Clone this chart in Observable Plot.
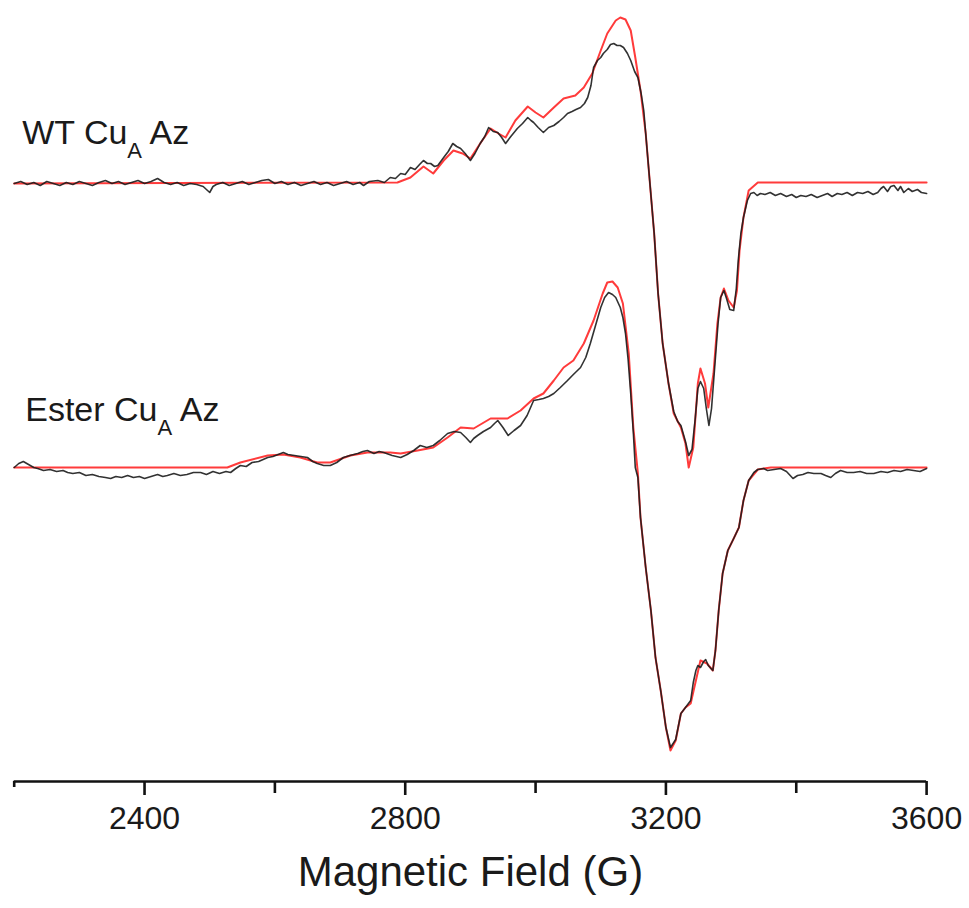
<!DOCTYPE html>
<html>
<head>
<meta charset="utf-8">
<script src="https://cdn.jsdelivr.net/npm/d3@7"></script>
<script src="https://cdn.jsdelivr.net/npm/@observablehq/plot@0.6"></script>
<style>
  html, body { margin: 0; padding: 0; background: #fff; }
  #chart svg { display: block; }
</style>
</head>
<body>
<div id="chart"></div>
<script>
// ---------------- data (field in gauss, signal in arbitrary units) ----------------
const wtFitField = [2200,2788,2808,2828,2843,2859,2874,2888,2900,2915,2931,2943,2954,2969,2988,3000,3012,3028,3043,3061,3074,3087,3100,3110,3123,3130,3138,3146,3153,3161,3169,3176,3182,3188,3195,3204,3212,3223,3230,3235,3242,3249,3253,3260,3265,3273,3279,3284,3289,3296,3304,3309,3313,3319,3327,3341,3600];
const wtFitSignal = [0,1,6,17,10,23,33,30,25,40,55,50,46,63,77,71,66,76,85,88,96,110,133,150,163,166,164,153,126,93,50,-4,-50,-110,-160,-200,-230,-244,-260,-284,-264,-200,-185,-200,-224,-190,-140,-114,-105,-117,-124,-107,-67,-34,-7,1,1];

const wtExpField = [2200,2210,2220,2230,2240,2250,2260,2270,2280,2290,2300,2310,2320,2330,2340,2350,2360,2370,2380,2390,2400,2410,2420,2430,2440,2450,2460,2470,2480,2490,2500,2505,2510,2520,2530,2540,2550,2560,2570,2580,2590,2600,2610,2620,2630,2640,2650,2660,2670,2680,2690,2700,2710,2720,2730,2736,2745,2758,2768,2777,2785,2793,2800,2808,2815,2822,2828,2834,2839,2845,2850,2859,2866,2873,2879,2885,2892,2900,2907,2915,2922,2928,2935,2942,2948,2954,2962,2972,2980,2988,2993,2997,3004,3012,3020,3028,3036,3043,3049,3056,3062,3069,3075,3080,3085,3089,3095,3100,3104,3110,3115,3120,3125,3130,3135,3141,3146,3152,3157,3162,3166,3169,3176,3182,3188,3195,3204,3212,3218,3223,3230,3235,3240,3245,3249,3253,3258,3262,3266,3270,3276,3280,3284,3289,3293,3298,3304,3308,3311,3315,3319,3325,3330,3335,3340,3345,3352,3360,3368,3376,3385,3393,3400,3407,3415,3423,3432,3440,3448,3455,3463,3470,3478,3486,3494,3502,3510,3518,3525,3530,3534,3540,3545,3550,3556,3560,3565,3572,3578,3586,3592,3600];
const wtExpSignal = [0,2,-1,1,-2,2,0,-2,1,-1,2,0,-2,1,3,0,2,-1,1,3,0,2,5,1,-1,1,-2,0,-1,-3,-9,-3,-1,1,-2,0,2,-1,1,3,4,0,2,-1,1,-2,0,2,-1,1,-2,0,2,-1,1,-2,2,3,1,6,5,10,9,16,14,19,23,20,20,17,18,26,32,40,37,35,30,23,30,40,47,56,52,51,46,40,47,55,60,66,63,61,56,51,56,58,62,66,70,72,74,76,80,86,98,116,123,126,130,134,139,140,138,138,136,130,123,112,106,90,73,50,-4,-50,-110,-160,-200,-228,-238,-242,-258,-272,-266,-235,-205,-198,-205,-225,-242,-225,-174,-140,-114,-107,-115,-126,-127,-105,-77,-50,-34,-17,-10,-9,-12,-10,-11,-9,-12,-10,-13,-11,-14,-12,-13,-11,-14,-12,-10,-13,-10,-11,-9,-12,-9,-10,-8,-11,-9,-5,-3,-8,-3,-2,-7,-3,-9,-5,-8,-6,-9,-10];

const esterFitField = [2200,2527,2547,2589,2613,2639,2665,2685,2716,2742,2777,2793,2819,2843,2865,2885,2905,2931,2957,2977,2997,3012,3028,3043,3058,3074,3089,3103,3110,3118,3126,3134,3143,3150,3157,3161,3169,3177,3184,3192,3200,3207,3215,3223,3230,3238,3246,3253,3263,3272,3276,3281,3287,3295,3304,3312,3319,3327,3341,3361,3600];
const esterFitSignal = [0,0,5,12,13,10,5,5,12,15,15,14,17,20,30,40,39,49,49,57,69,74,87,100,107,124,147,174,185,186,180,164,114,40,-6,-50,-100,-143,-190,-223,-260,-283,-273,-246,-240,-236,-213,-193,-196,-203,-183,-143,-106,-83,-71,-60,-33,-13,-2,0,0];

const esterExpField = [2200,2207,2214,2222,2230,2236,2245,2255,2265,2275,2282,2290,2300,2310,2320,2330,2340,2348,2356,2365,2374,2383,2392,2400,2410,2420,2428,2435,2445,2455,2465,2475,2486,2495,2505,2515,2525,2532,2540,2547,2556,2565,2575,2582,2589,2597,2605,2613,2620,2630,2640,2650,2658,2665,2675,2685,2695,2705,2715,2727,2735,2742,2752,2760,2767,2780,2793,2803,2813,2823,2833,2843,2853,2865,2875,2885,2893,2900,2905,2911,2920,2931,2937,2942,2950,2958,2967,2977,2987,2997,3005,3012,3020,3028,3038,3049,3058,3069,3077,3084,3092,3100,3106,3112,3118,3123,3130,3134,3138,3142,3146,3150,3153,3157,3161,3169,3177,3184,3192,3200,3207,3215,3223,3230,3238,3242,3246,3249,3253,3258,3261,3265,3272,3276,3281,3287,3295,3304,3312,3319,3327,3335,3341,3350,3356,3366,3376,3385,3395,3402,3410,3418,3427,3438,3445,3453,3460,3468,3478,3488,3498,3508,3519,3530,3540,3550,3560,3570,3580,3590,3600];
const esterExpSignal = [0,4,6,3,0,-1,-3,-2,-4,-3,-5,-6,-5,-8,-7,-9,-10,-11,-9,-10,-8,-10,-9,-11,-9,-7,-9,-8,-6,-8,-7,-5,-5,-7,-4,-6,-4,-5,-1,2,1,5,6,8,10,11,13,15,13,12,11,10,6,4,2,2,5,10,12,14,16,17,14,16,15,12,10,13,17,22,20,22,27,34,36,35,30,25,29,32,36,40,44,47,40,32,37,42,52,67,68,69,71,74,80,87,93,100,110,124,142,160,170,175,173,170,160,150,134,108,74,35,0,-10,-50,-100,-143,-190,-223,-260,-280,-272,-246,-240,-233,-215,-203,-198,-200,-194,-192,-198,-203,-183,-143,-106,-83,-71,-60,-33,-13,-5,-2,-1,-3,-2,-1,-4,-11,-8,-7,-5,-6,-6,-8,-10,-6,-3,-5,-5,-4,-6,-6,-4,-5,-3,-4,-2,-3,-4,-1];

const wtOffset = 284;   // vertical stacking offset of the WT traces
const esterOffset = 0;

const seriesLabels = ["WT Cu_A Az", "Ester Cu_A Az"];
const majorTicks = [2400, 2800, 3200, 3600];
const minorTicks = [2600, 3000, 3400];
const endTicks = [2200];
const xTitle = "Magnetic Field (G)";
const xDomain = [2200, 3600];
const yDomain = [-314, 467];

// ---------------- build tables ----------------
const toRows = (f, s, off) => f.map((v, i) => ({field: v, signal: s[i] + off}));
const wtFit = toRows(wtFitField, wtFitSignal, wtOffset);
const wtExp = toRows(wtExpField, wtExpSignal, wtOffset);
const esterFit = toRows(esterFitField, esterFitSignal, esterOffset);
const esterExp = toRows(esterExpField, esterExpSignal, esterOffset);

const RED = "#ff3b3b";
const BLACK = "#1c1c1c";
const FONT = "'Liberation Sans', Arial, Helvetica, sans-serif";

const chart = Plot.plot({
  width: 969,
  height: 908,
  marginLeft: 13.7,
  marginRight: 42.9,
  marginTop: 0,
  marginBottom: 127,
  style: {fontFamily: FONT, color: "#1a1a1a", background: "#fff"},
  x: {domain: xDomain},
  y: {domain: yDomain, axis: null},
  marks: [
    Plot.line(wtFit, {x: "field", y: "signal", stroke: RED, strokeWidth: 2}),
    Plot.line(esterFit, {x: "field", y: "signal", stroke: RED, strokeWidth: 2}),
    Plot.line(wtExp, {x: "field", y: "signal", stroke: BLACK, strokeWidth: 1.6, strokeOpacity: 0.9}),
    Plot.line(esterExp, {x: "field", y: "signal", stroke: BLACK, strokeWidth: 1.6, strokeOpacity: 0.9}),
    Plot.ruleY([yDomain[0]], {stroke: "#111", strokeWidth: 2.6}),
    Plot.axisX({ticks: majorTicks, tickSize: 14, tickPadding: 11, fontSize: 32, label: null, strokeWidth: 2.6, stroke: "#111", tickFormat: d => String(d)}),
    Plot.axisX({ticks: minorTicks, tickSize: 12, tickFormat: () => "", label: null, strokeWidth: 2.6, stroke: "#111"}),
    Plot.axisX({ticks: endTicks, tickSize: 6, tickFormat: () => "", label: null, strokeWidth: 2.6, stroke: "#111"}),
    Plot.text([xTitle], {frameAnchor: "bottom", dy: 104, lineAnchor: "bottom", fontSize: 42, fill: "#1a1a1a"}),
    Plot.text([seriesLabels[0]], {frameAnchor: "top-left", dx: 8, dy: 143, lineAnchor: "bottom", textAnchor: "start", fontSize: 34, fill: "#1a1a1a"}),
    Plot.text([seriesLabels[1]], {frameAnchor: "top-left", dx: 11, dy: 420, lineAnchor: "bottom", textAnchor: "start", fontSize: 34, fill: "#1a1a1a"})
  ]
});

// subscript "A" in the series labels
const NS = "http://www.w3.org/2000/svg";
chart.querySelectorAll("text").forEach(t => {
  const s = t.textContent;
  if (s.includes("_A")) {
    const [pre, post] = s.split("_A");
    t.textContent = "";
    const a = document.createElementNS(NS, "tspan"); a.textContent = pre;
    const b = document.createElementNS(NS, "tspan"); b.textContent = "A";
    b.setAttribute("dy", "14"); b.setAttribute("font-size", "22");
    const c = document.createElementNS(NS, "tspan"); c.textContent = post;
    c.setAttribute("dy", "-14");
    t.append(a, b, c);
  }
});

document.getElementById("chart").appendChild(chart);
</script>
</body>
</html>
